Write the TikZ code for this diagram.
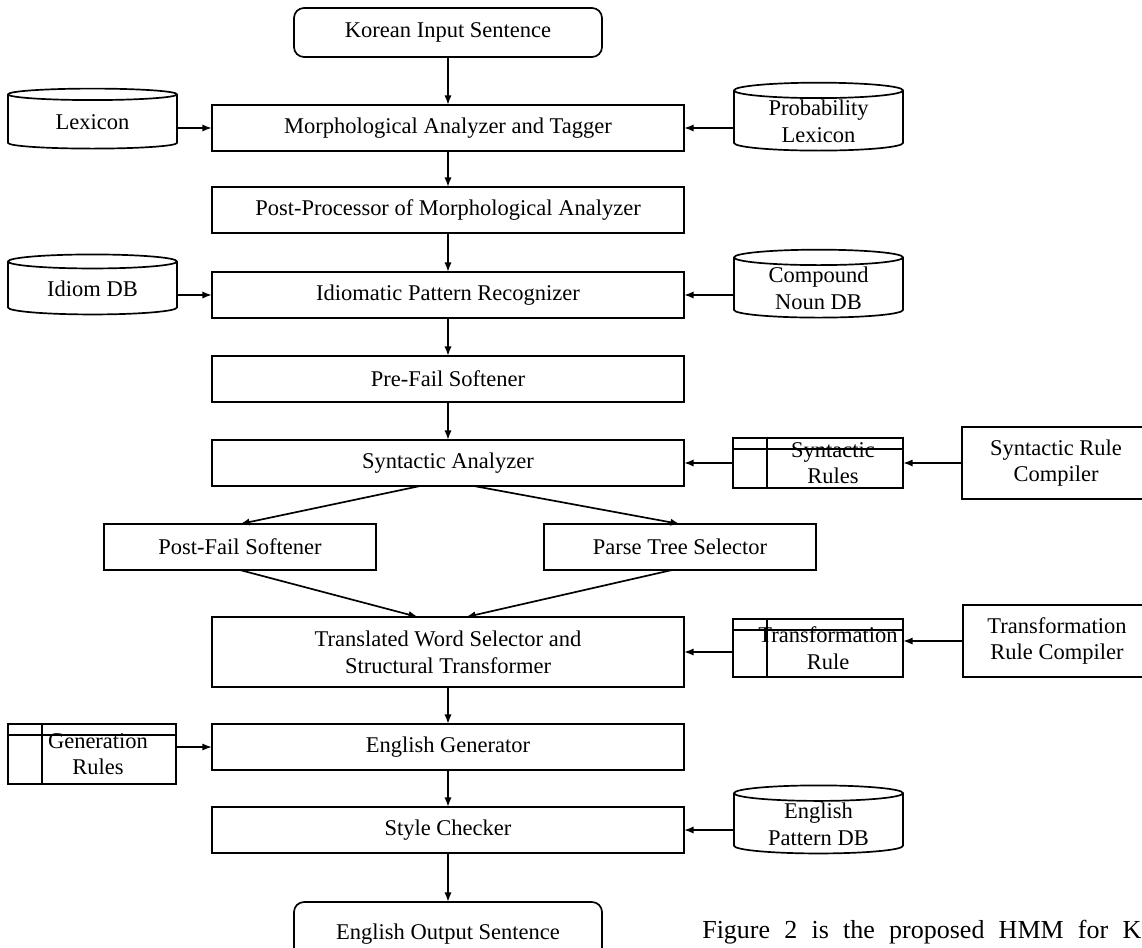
\documentclass[tikz,border=0pt]{standalone}
\usepackage{fontspec}
\setmainfont{Liberation Serif}
\usetikzlibrary{shapes.geometric, arrows.meta, positioning, calc}
\tikzset{
    dbcyl/.style={cylinder, shape border rotate=90, aspect=0.15, draw, line width=1.2pt, outer sep=0pt, minimum width=42.25mm, minimum height=15mm, align=center, inner sep=1pt},
    rulestore/.style={rectangle, draw, line width=1.2pt, outer sep=0pt, minimum width=42.5mm, minimum height=12.5mm,
        path picture={
            \draw[line width=1.2pt] ([yshift=-2.75mm]path picture bounding box.north west) -- ([yshift=-2.75mm]path picture bounding box.north east);
            \draw[line width=1.2pt] ([xshift=8.5mm]path picture bounding box.north west) -- ([xshift=8.5mm]path picture bounding box.south west);
        }},
    rulelabel/.style={align=center, inner sep=0pt},
    arrow/.style={-{Latex[length=2.4mm,width=1.8mm]}, line width=1.2pt},
}
\begin{document}
\begin{tikzpicture}[x=0.25mm, y=-0.25mm, font=\fontsize{16}{19}\selectfont,
  stagebox/.style={draw, line width=1.2pt, outer sep=0pt, minimum width=118mm, minimum height=11.5mm, align=center},
  endbox/.style={stagebox, rounded corners=2.5mm, minimum width=77mm, minimum height=12.25mm},
  branchbox/.style={stagebox, minimum width=68mm},
  compbox/.style={stagebox, minimum width=47mm, minimum height=18mm}
]
\useasboundingbox (0,0) rectangle (1142,947);
\node[endbox] (kor) at (448,32.5) {Korean Input Sentence};
\node[stagebox, below=12mm of kor] (morph) {Morphological Analyzer and Tagger};
\node[stagebox, below=9mm of morph] (post) {Post-Processor of Morphological Analyzer};
\node[stagebox, below=9.75mm of post] (idiom) {Idiomatic Pattern Recognizer};
\node[stagebox, below=9.5mm of idiom] (pre) {Pre-Fail Softener};
\node[stagebox, below=9.5mm of pre] (syn) {Syntactic Analyzer};
\node[branchbox, below=9.5mm of syn, xshift=-52mm] (pf) {Post-Fail Softener};
\node[branchbox, below=9.5mm of syn, xshift=58mm] (pt) {Parse Tree Selector};
\node[stagebox, minimum height=17.5mm, below=32.75mm of syn] (trans) {Translated Word Selector and\\Structural Transformer};
\node[stagebox, below=9.25mm of trans] (gen) {English Generator};
\node[stagebox, below=9.25mm of gen] (style) {Style Checker};
\node[endbox, minimum height=16mm, below=12.25mm of style] (out) {English Output Sentence};

\node[dbcyl, left=8.75mm of morph, yshift=1.4mm] (lex) {Lexicon};
\node[dbcyl, right=12.5mm of morph, yshift=1.6mm] (plex) {Probability\\Lexicon};
\node[dbcyl, left=8.75mm of idiom, yshift=1.5mm] (idb) {Idiom DB};
\node[dbcyl, right=12.5mm of idiom, yshift=1.6mm] (cdb) {Compound\\Noun DB};
\node[rulestore, right=12.25mm of syn, label={[rulelabel, xshift=3.75mm]center:Syntactic\\Rules}] (srules) {};
\node[compbox, right=14.75mm of srules] (scomp) {Syntactic Rule\\Compiler};
\node[rulestore, minimum height=14.5mm, right=12.25mm of trans, yshift=1mm, label={[rulelabel, xshift=2.5mm]center:Transformation\\Rule}] (trule) {};
\node[compbox, right=15mm of trule, yshift=1.75mm] (tcomp) {Transformation\\Rule Compiler};
\node[rulestore, minimum width=42mm, minimum height=15mm, left=9mm of gen, yshift=-1.75mm, label={[rulelabel, xshift=1.5mm]center:Generation\\Rules}] (grules) {};
\node[dbcyl, right=12.5mm of style, yshift=1.4mm] (edb) {English\\Pattern DB};

\node[anchor=base west, inner sep=0pt, font=\fontsize{18.5}{22}\selectfont] (note) at (702,938) {\makebox[109.75mm][s]{Figure 2 is the proposed HMM for K}};

\draw[arrow] (kor) -- (morph);
\draw[arrow] (morph) -- (post);
\draw[arrow] (post) -- (idiom);
\draw[arrow] (idiom) -- (pre);
\draw[arrow] (pre) -- (syn);
\draw[arrow] ([xshift=-7mm]syn.south) -- (pf.north);
\draw[arrow] ([xshift=6.5mm]syn.south) -- (pt.north);
\draw[arrow] (pf.south) -- ([xshift=-7.5mm]trans.north);
\draw[arrow] ([xshift=-2mm]pt.south) -- ([xshift=4.5mm]trans.north);
\draw[arrow] (trans) -- (gen);
\draw[arrow] (gen) -- (style);
\draw[arrow] (style) -- (out);
\draw[arrow] (lex.east |- morph) -- (morph.west);
\draw[arrow] (plex.west |- morph) -- (morph.east);
\draw[arrow] (idb.east |- idiom) -- (idiom.west);
\draw[arrow] (cdb.west |- idiom) -- (idiom.east);
\draw[arrow] (srules) -- (syn);
\draw[arrow] (scomp) -- (srules);
\draw[arrow] (trule.west |- trans) -- (trans.east);
\draw[arrow] (tcomp.west) -- (tcomp.west -| trule.east);
\draw[arrow] (grules.east |- gen) -- (gen.west);
\draw[arrow] (edb.west |- style) -- (style.east);
\end{tikzpicture}
\end{document}
